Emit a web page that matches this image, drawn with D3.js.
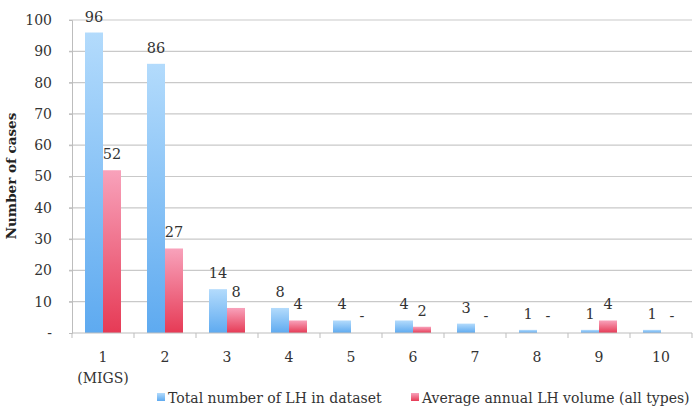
<!DOCTYPE html>
<html><head><meta charset="utf-8">
<script src="https://cdn.jsdelivr.net/npm/d3@7/dist/d3.min.js"></script>
<style>body{margin:0;background:#fff}svg{display:block}</style>
</head><body>
<script>
const categories = ["1","2","3","4","5","6","7","8","9","10"];
const subLabels = ["(MIGS)","","","","","","","","",""];
const totalLH = [96,86,14,8,4,4,3,1,1,1];
const avgLH = [52,27,8,4,null,2,null,null,4,null];
const yTicks = [0,10,20,30,40,50,60,70,80,90,100];
const seriesNames = ["Total number of LH in dataset","Average annual LH volume (all types)"];

const W=694,H=412;
const m={l:72,r:2,t:20,b:79};
const svg=d3.select("body").append("svg").attr("width",W).attr("height",H);
const font="'DejaVu Serif', serif";

const defs=svg.append("defs");
function grad(id,c1,c2){
  const g=defs.append("linearGradient").attr("id",id).attr("x1",0).attr("y1",0).attr("x2",0).attr("y2",1);
  g.append("stop").attr("offset","0%").attr("stop-color",c1);
  g.append("stop").attr("offset","100%").attr("stop-color",c2);
}
grad("gb","#b3dbfc","#5eaaf0");
grad("gp","#f8a2bb","#e63a55");

const x=d3.scaleBand().domain(categories).range([m.l,W-m.r]).paddingInner(0).paddingOuter(0);
const y=d3.scaleLinear().domain([0,100]).range([H-m.b,m.t]);
const bw=18;

// gridlines
svg.append("g").selectAll("line").data(yTicks.slice(1)).join("line")
  .attr("x1",m.l-3).attr("x2",W-m.r).attr("y1",d=>y(d)).attr("y2",d=>y(d))
  .attr("stroke","#c9c9c9").attr("stroke-width",1.2);

// y axis
const ya=svg.append("g").attr("transform",`translate(${m.l},0)`)
  .call(d3.axisLeft(y).tickValues(yTicks).tickSize(3).tickFormat(d=>d===0?"-":d));
ya.select(".domain").attr("stroke","#bdbdbd");
ya.selectAll(".tick line").attr("stroke","#bdbdbd");
ya.selectAll("text").attr("font-family",font).attr("font-size",14).attr("fill","#333").attr("dx",-14);

// bars
const cx=d=>x(d)+x.bandwidth()/2;
svg.append("g").selectAll("rect").data(categories.map((c,i)=>({c,v:totalLH[i]}))).join("rect")
  .attr("x",d=>cx(d.c)-bw).attr("width",bw).attr("y",d=>y(d.v)).attr("height",d=>y(0)-y(d.v))
  .attr("fill","url(#gb)");
svg.append("g").selectAll("rect").data(categories.map((c,i)=>({c,v:avgLH[i]})).filter(d=>d.v!=null)).join("rect")
  .attr("x",d=>cx(d.c)).attr("width",bw).attr("y",d=>y(d.v)).attr("height",d=>y(0)-y(d.v))
  .attr("fill","url(#gp)");

// value labels
const lab=svg.append("g").attr("font-family",font).attr("font-size",14.5).attr("fill","#333").attr("text-anchor","middle");
categories.forEach((c,i)=>{
  lab.append("text").attr("x",cx(c)-bw/2).attr("y",y(totalLH[i])-11).text(totalLH[i]);
  const v=avgLH[i];
  lab.append("text").attr("x",cx(c)+bw/2+ (v==null?2:0)).attr("y",y(v==null?0:v)-(v==null?12:11)).text(v==null?"-":v);
});

// x axis
const xa=svg.append("g").attr("transform",`translate(0,${y(0)})`);
xa.append("line").attr("x1",m.l).attr("x2",W-m.r).attr("stroke","#bdbdbd").attr("stroke-width",1.2);
xa.selectAll(".tk").data(categories.concat(["end"])).join("line").attr("class","tk")
  .attr("x1",(d,i)=>m.l+i*x.bandwidth()).attr("x2",(d,i)=>m.l+i*x.bandwidth()).attr("y1",0).attr("y2",5)
  .attr("stroke","#bdbdbd");
categories.forEach((c,i)=>{
  xa.append("text").attr("x",cx(c)).attr("y",29).attr("text-anchor","middle")
    .attr("font-family",font).attr("font-size",14).attr("fill","#333").text(c);
  if(subLabels[i]) xa.append("text").attr("x",cx(c)).attr("y",50).attr("text-anchor","middle")
    .attr("font-family",font).attr("font-size",14).attr("fill","#333").text(subLabels[i]);
});

// y title
svg.append("text").attr("transform","translate(16,176) rotate(-90)").attr("text-anchor","middle")
  .attr("font-family",font).attr("font-size",13.5).attr("font-weight","bold").attr("fill","#222").text("Number of cases");

// legend
const lg=svg.append("g").attr("font-family",font).attr("font-size",14).attr("fill","#333");
const lx=[157,411];
const maxW=[216,268];
seriesNames.forEach((n,i)=>{
  lg.append("rect").attr("x",lx[i]).attr("y",393).attr("width",8).attr("height",8).attr("fill",i?"url(#gp)":"url(#gb)");
  const t=lg.append("text").attr("x",lx[i]+11).attr("y",403).text(n);
  const w=t.node().getComputedTextLength();
  if(w>maxW[i]) t.attr("font-size",14*maxW[i]/w);
});
</script>
</body></html>
